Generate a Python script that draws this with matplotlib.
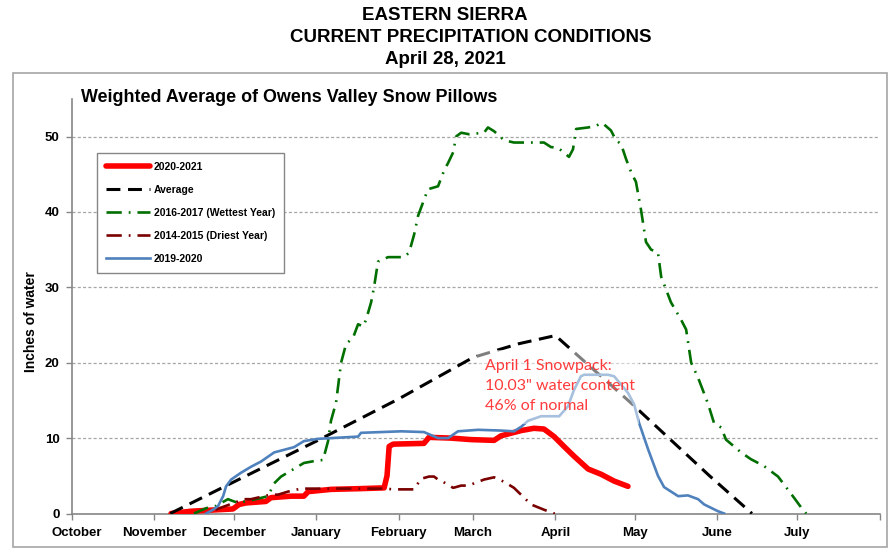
import matplotlib
matplotlib.use("Agg")
import matplotlib.pyplot as plt
from matplotlib import font_manager
from matplotlib.patches import Rectangle
import matplotlib.transforms as mtransforms

plt.rcParams['lines.scale_dashes'] = False

names = {f.name for f in font_manager.fontManager.ttflist}
NARROW = [n for n in ['Liberation Sans Narrow', 'Liberation Sans', 'DejaVu Sans'] if n in names]
plt.rcParams['font.family'] = NARROW

# ---------------- data (x = days since Oct 1) ----------------
month_days = [0, 31, 61, 92, 123, 151, 182, 212, 243, 273, 304]
month_labels = ["October", "November", "December", "January", "February",
                "March", "April", "May", "June", "July", ""]

red_x = [37.3, 44.8, 55.0, 60.6, 62.9, 65.5, 73.0, 74.9, 82.5, 87.3, 88.9, 97.5,
         108.8, 117.5, 118.6, 119.4, 120.9, 132.5, 134.4, 142.7, 150.2, 158.9,
         161.5, 169.1, 173.9, 177.7, 181.5, 185.2, 189.0, 194.3, 199.2, 204.1, 209.3]
red_y = [0.0, 0.3, 0.5, 0.6, 1.2, 1.4, 1.6, 2.1, 2.3, 2.3, 2.9, 3.2,
         3.3, 3.4, 5.0, 8.9, 9.2, 9.3, 10.1, 10.0, 9.8, 9.7,
         10.3, 11.0, 11.3, 11.2, 10.2, 8.9, 7.6, 5.9, 5.2, 4.3, 3.6]

avg_x = [37, 61, 92, 123, 151, 168, 182, 210, 240, 256]
avg_y = [0.0, 4.2, 9.6, 15.2, 20.7, 22.5, 23.6, 14.8, 5.0, 0.0]

wet_x = [45.9, 50.5, 54.2, 58.7, 62.5, 69.3, 73.8, 76.1, 78.7, 87.3, 91.9, 94.5,
         96.4, 97.5, 99.4, 101.3, 103.2, 105.8, 107.7, 109.6, 110.7, 112.6, 113.7,
         115.2, 119.0, 125.0, 126.9, 128.8, 130.3, 134.0, 137.8, 140.1, 141.6,
         143.5, 144.6, 146.5, 149.5, 155.1, 156.6, 158.9, 162.7, 166.4, 172.8,
         177.7, 180.3, 183.0, 187.1, 188.6, 189.8, 194.3, 197.3, 199.2, 200.3,
         202.9, 204.8, 206.7, 208.6, 210.8, 212.3, 214.2, 216.1, 218.0, 220.6,
         221.8, 225.5, 229.3, 231.2, 233.1, 235.7, 236.8, 239.5, 241.7, 244.4,
         246.2, 251.9, 255.6, 260.5, 265.8, 271.8, 274.5, 276.4]
wet_y = [0.0, 0.7, 1.0, 1.9, 1.4, 1.9, 2.3, 4.0, 4.9, 6.7, 7.0, 7.1,
         9.6, 12.3, 14.7, 20.0, 22.5, 23.3, 25.1, 24.8, 25.7, 28.0, 30.0,
         33.4, 34.0, 34.0, 34.6, 37.0, 39.5, 43.0, 43.4, 45.5, 46.5,
         47.9, 50.0, 50.5, 50.3, 50.5, 51.2, 50.7, 49.5, 49.2, 49.2,
         49.2, 48.6, 48.5, 47.3, 48.3, 51.0, 51.2, 51.4, 51.8, 51.6,
         50.8, 49.5, 49.0, 47.0, 45.0, 44.0, 40.3, 36.0, 35.0, 34.6,
         31.4, 28.0, 25.7, 24.4, 20.0, 18.0, 17.0, 14.5, 12.0, 11.4,
         9.8, 8.1, 7.2, 6.3, 4.9, 2.1, 0.8, 0.0]

dry_x = [54.0, 61.7, 64.8, 67.4, 72.3, 74.9, 77.6, 81.3, 86.2, 90.0, 94.9, 117.5,
         121.2, 128.8, 129.5, 131.4, 134.4, 136.3, 137.8, 139.7, 143.5, 146.5,
         149.1, 152.9, 155.1, 158.9, 162.7, 166.4, 170.2, 172.8, 177.7, 181.5, 184.1]
dry_y = [0.5, 1.5, 1.9, 1.9, 2.3, 2.5, 2.5, 2.9, 3.3, 3.3, 3.3, 3.3,
         3.2, 3.2, 3.6, 4.6, 4.9, 4.9, 4.5, 4.2, 3.4, 3.7,
         3.7, 4.2, 4.5, 4.8, 4.2, 3.4, 2.1, 1.2, 0.5, 0.0, 0.0]

prev_x = [50.5, 53.1, 55.0, 56.9, 58.0, 59.9, 63.6, 67.4, 71.2, 76.1, 83.6, 87.3,
          92.6, 107.7, 108.8, 123.9, 132.5, 137.8, 141.6, 145.3, 152.9, 161.5,
          166.4, 169.1, 171.7, 176.6, 183.4, 186.7, 189.0, 191.6, 192.8, 201.8,
          204.1, 209.3, 211.6, 213.5, 216.9, 220.6, 222.9, 228.2, 231.9, 235.7,
          238.0, 243.2, 245.5]
prev_y = [0.0, 0.5, 1.0, 2.3, 3.6, 4.5, 5.4, 6.2, 6.9, 8.1, 8.8, 9.6,
          9.9, 10.2, 10.7, 10.9, 10.8, 10.0, 10.0, 10.9, 11.1, 11.0,
          10.9, 11.5, 12.3, 12.9, 12.9, 14.2, 16.4, 18.2, 18.4, 18.4,
          18.2, 16.0, 14.5, 12.0, 8.5, 5.0, 3.5, 2.3, 2.4, 1.9,
          1.2, 0.3, 0.0]

series_labels = ["2020-2021", "Average", "2016-2017 (Wettest Year)",
                 "2014-2015 (Driest Year)", "2019-2020"]
note_lines = ["April 1 Snowpack:", "10.03\" water content", "46% of normal"]

# ---------------- figure ----------------
W, H = 890, 548
fig = plt.figure(figsize=(W / 100, H / 100), dpi=100)
fig.patch.set_facecolor('white')

# outer chart border
fig.patches.append(Rectangle((13 / W, 1 - 547 / H), (887 - 13) / W, (547 - 73) / H,
                             transform=fig.transFigure, fill=False,
                             edgecolor='#A6A6A6', lw=1.2))

ax_left, ax_right = 72, 879.5
ax_bottom, ax_top = 513.5, 98.8
ax = fig.add_axes([ax_left / W, 1 - ax_bottom / H, (ax_right - ax_left) / W,
                   (ax_bottom - ax_top) / H])
ax.set_xlim(0, 304)
ax.set_ylim(0, 55)

for s in ['top', 'right']:
    ax.spines[s].set_visible(False)
for s in ['left', 'bottom']:
    ax.spines[s].set_color('#868686')
    ax.spines[s].set_linewidth(1.2)

ax.set_yticks([0, 10, 20, 30, 40, 50])
ax.set_xticks(month_days)
ax.set_xticklabels(month_labels)
ax.tick_params(axis='both', colors='#868686', length=4, width=1, direction='out',
               labelcolor='black', labelsize=9.5)
for lab in ax.get_xticklabels() + ax.get_yticklabels():
    lab.set_fontweight('bold')
ax.tick_params(axis='x', pad=6)
ax.tick_params(axis='y', pad=5)
first = ax.get_xticklabels()[0]
first.set_transform(first.get_transform() +
                    mtransforms.ScaledTranslation(5 / 100, 0, fig.dpi_scale_trans))

ax.yaxis.grid(True, color='#A6A6A6', linestyle=(0, (2.2, 1.6)), lw=0.9)
ax.set_axisbelow(True)

ax.set_ylabel("Inches of water", fontsize=10, fontweight='bold')
ax.yaxis.set_label_coords((38 - ax_left) / (ax_right - ax_left),
                          (ax_bottom - 322) / (ax_bottom - ax_top))

# series
l_red, = ax.plot(red_x, red_y, color='#FF0000', lw=4.0, solid_capstyle='round',
                 label=series_labels[0], zorder=3)
l_avg, = ax.plot(avg_x, avg_y, color='black', lw=2.2, label=series_labels[1], zorder=3)
l_avg.set_dashes([10, 5.5])
l_wet, = ax.plot(wet_x, wet_y, color='#006F00', lw=1.9, label=series_labels[2], zorder=3)
l_wet.set_dashes([11, 5, 1.3, 5])
l_dry, = ax.plot(dry_x, dry_y, color='#7A0000', lw=1.9, label=series_labels[3], zorder=3)
l_dry.set_dashes([11, 5, 1.3, 5])
l_prev, = ax.plot(prev_x, prev_y, color='#4F81BD', lw=1.9, label=series_labels[4], zorder=3)

# semi-transparent note box
ax.add_patch(Rectangle((152.5, 11.9), 61.0, 9.8, facecolor='white', alpha=0.5,
                       edgecolor='none', zorder=5))
for i, t in enumerate(note_lines):
    ax.text(155.5, 19.5 - i * 2.65, t, color='#FF3B3B', fontsize=11.5,
            family=['Lato', 'DejaVu Sans'], va='center', ha='left', zorder=6)

leg = ax.legend(handles=[l_red, l_avg, l_wet, l_dry, l_prev],
                loc='upper left', bbox_to_anchor=(97 / W, 1 - 153 / H),
                bbox_transform=fig.transFigure, borderaxespad=0,
                fancybox=False, edgecolor='#868686', framealpha=1,
                prop={'size': 7.5, 'weight': 'bold', 'family': NARROW},
                handlelength=4.2, labelspacing=1.25, handletextpad=0.4,
                borderpad=0.85)
leg.get_frame().set_linewidth(1.0)

# titles
fig.text(445 / W, 1 - 15 / H, "EASTERN SIERRA", ha='center', va='center',
         fontsize=13.5, fontweight='bold')
fig.text(471 / W, 1 - 38 / H, "CURRENT PRECIPITATION CONDITIONS", ha='center',
         va='center', fontsize=13.5, fontweight='bold')
fig.text(445 / W, 1 - 60 / H, "April 28, 2021", ha='center', va='center',
         fontsize=13.5, fontweight='bold')
fig.text(81 / W, 1 - 98 / H, "Weighted Average of Owens Valley Snow Pillows",
         ha='left', va='center', fontsize=12.9, fontweight='bold')

fig.savefig("out.png", dpi=100, facecolor='white')
